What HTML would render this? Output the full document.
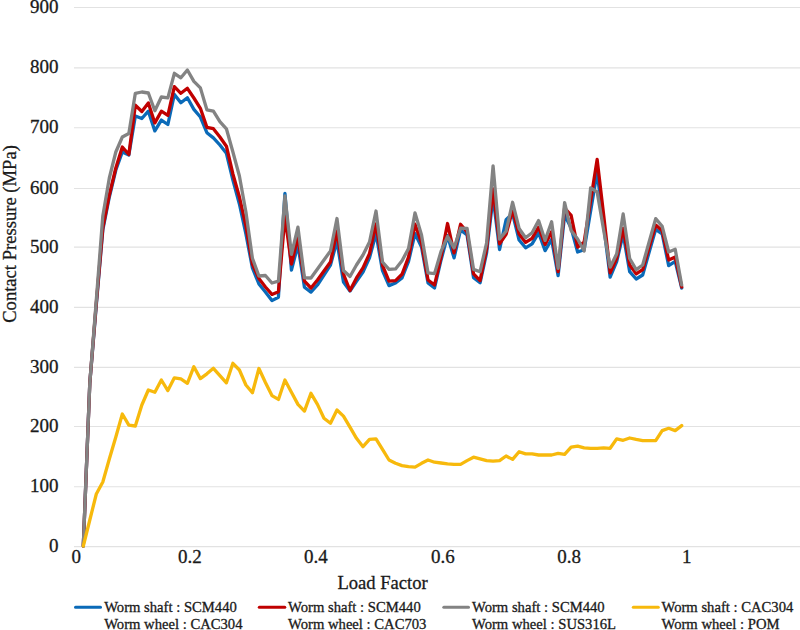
<!DOCTYPE html>
<html><head><meta charset="utf-8"><style>
html,body{margin:0;padding:0;background:#fff;}
body{width:800px;height:630px;overflow:hidden;position:relative;}
svg{position:absolute;left:0;top:0;}
text{font-family:"Liberation Serif",serif;fill:#1a1a1a;stroke:#1a1a1a;stroke-width:0.3px;}
</style></head><body>
<svg width="800" height="630" viewBox="0 0 800 630">

<line x1="74" y1="546.55" x2="800" y2="546.55" stroke="#e2e2e2" stroke-width="1.2"/>
<line x1="74" y1="486.75" x2="800" y2="486.75" stroke="#e2e2e2" stroke-width="1.2"/>
<line x1="74" y1="426.50" x2="800" y2="426.50" stroke="#e2e2e2" stroke-width="1.2"/>
<line x1="74" y1="367.40" x2="800" y2="367.40" stroke="#e2e2e2" stroke-width="1.2"/>
<line x1="74" y1="307.40" x2="800" y2="307.40" stroke="#e2e2e2" stroke-width="1.2"/>
<line x1="74" y1="247.10" x2="800" y2="247.10" stroke="#e2e2e2" stroke-width="1.2"/>
<line x1="74" y1="188.50" x2="800" y2="188.50" stroke="#e2e2e2" stroke-width="1.2"/>
<line x1="74" y1="127.75" x2="800" y2="127.75" stroke="#e2e2e2" stroke-width="1.2"/>
<line x1="74" y1="67.95" x2="800" y2="67.95" stroke="#e2e2e2" stroke-width="1.2"/>
<line x1="74" y1="7.50" x2="800" y2="7.50" stroke="#e2e2e2" stroke-width="1.2"/>
<text x="58.5" y="551.95" font-size="19" text-anchor="end">0</text>
<text x="58.5" y="492.15" font-size="19" text-anchor="end">100</text>
<text x="58.5" y="431.90" font-size="19" text-anchor="end">200</text>
<text x="58.5" y="372.80" font-size="19" text-anchor="end">300</text>
<text x="58.5" y="312.80" font-size="19" text-anchor="end">400</text>
<text x="58.5" y="252.50" font-size="19" text-anchor="end">500</text>
<text x="58.5" y="193.90" font-size="19" text-anchor="end">600</text>
<text x="58.5" y="133.15" font-size="19" text-anchor="end">700</text>
<text x="58.5" y="73.35" font-size="19" text-anchor="end">800</text>
<text x="58.5" y="12.90" font-size="19" text-anchor="end">900</text>
<text x="76.25" y="562.5" font-size="19" text-anchor="middle">0</text>
<text x="189.75" y="562.5" font-size="19" text-anchor="middle">0.2</text>
<text x="315.75" y="562.5" font-size="19" text-anchor="middle">0.4</text>
<text x="442.75" y="562.5" font-size="19" text-anchor="middle">0.6</text>
<text x="569" y="562.5" font-size="19" text-anchor="middle">0.8</text>
<text x="686.75" y="562.5" font-size="19" text-anchor="middle">1</text>
<text x="382.6" y="588.7" font-size="18.6" text-anchor="middle">Load Factor</text>
<text transform="translate(15.5,234) rotate(-90)" x="0" y="0" font-size="18.6" text-anchor="middle">Contact Pressure (MPa)</text>
<polyline points="83.30,546.00 89.80,383.00 96.31,305.00 102.81,230.00 109.32,197.00 115.82,170.00 122.33,152.00 128.83,155.00 135.33,116.00 141.84,118.50 148.34,111.20 154.85,130.90 161.35,120.10 167.86,124.50 174.36,94.40 180.87,102.80 187.37,97.80 193.87,109.40 200.38,117.00 206.88,132.70 213.39,137.90 219.89,145.00 226.40,153.30 232.90,180.00 239.40,204.00 245.91,234.00 252.41,268.00 258.92,284.00 265.42,292.00 271.93,300.60 278.43,297.20 284.93,193.30 291.44,270.00 297.94,245.00 304.45,287.20 310.95,292.10 317.46,285.00 323.96,275.00 330.47,265.00 336.97,241.00 343.47,282.00 349.98,291.00 356.48,281.40 362.99,272.10 369.49,257.90 376.00,233.50 382.50,270.70 389.00,285.60 395.51,283.00 402.01,277.90 408.52,261.40 415.02,233.50 421.53,247.00 428.03,282.90 434.53,287.90 441.04,260.00 447.54,235.70 454.05,257.90 460.55,230.00 467.06,235.00 473.56,277.80 480.07,282.80 486.57,253.00 493.07,197.00 499.58,249.50 506.08,219.80 512.59,213.50 519.09,240.00 525.60,247.80 532.10,243.90 538.60,232.80 545.11,250.60 551.61,239.40 558.12,275.60 564.62,215.00 571.13,228.00 577.63,252.00 584.13,249.70 590.64,211.00 597.14,172.00 603.65,225.00 610.15,277.20 616.66,261.70 623.16,233.90 629.67,271.70 636.17,279.00 642.67,275.00 649.18,252.00 655.68,229.30 662.19,234.00 668.69,265.70 675.20,261.40 681.70,288.00" fill="none" stroke="#0a6ab8" stroke-width="3.3" stroke-linejoin="round" stroke-linecap="round"/>
<polyline points="83.30,546.00 89.80,383.00 96.31,303.00 102.81,228.00 109.32,195.00 115.82,168.00 122.33,147.00 128.83,154.50 135.33,105.20 141.84,111.50 148.34,102.90 154.85,122.90 161.35,111.20 167.86,115.30 174.36,86.70 180.87,93.30 187.37,88.30 193.87,98.00 200.38,108.30 206.88,127.30 213.39,128.70 219.89,137.00 226.40,146.20 232.90,174.00 239.40,197.00 245.91,226.00 252.41,264.00 258.92,278.60 265.42,287.00 271.93,294.40 278.43,291.70 284.93,216.70 291.44,264.00 297.94,236.70 304.45,281.10 310.95,288.00 317.46,280.00 323.96,271.00 330.47,262.00 336.97,231.00 343.47,274.00 349.98,290.50 356.48,277.90 362.99,267.90 369.49,253.60 376.00,224.00 382.50,265.30 389.00,281.10 395.51,280.60 402.01,274.30 408.52,257.10 415.02,224.20 421.53,242.90 428.03,280.00 434.53,285.00 441.04,257.00 447.54,223.50 454.05,252.90 460.55,224.30 467.06,232.00 473.56,273.90 480.07,280.60 486.57,249.00 493.07,189.00 499.58,243.80 506.08,234.40 512.59,210.00 519.09,234.00 525.60,242.40 532.10,238.30 538.60,227.20 545.11,244.50 551.61,231.70 558.12,271.70 564.62,208.00 571.13,215.40 577.63,247.10 584.13,242.00 590.64,200.70 597.14,159.40 603.65,215.00 610.15,272.80 616.66,258.30 623.16,228.30 629.67,265.00 636.17,273.90 642.67,269.70 649.18,247.00 655.68,225.00 662.19,230.70 668.69,260.00 675.20,257.00 681.70,287.00" fill="none" stroke="#c00000" stroke-width="3.3" stroke-linejoin="round" stroke-linecap="round"/>
<polyline points="83.30,546.00 89.80,383.00 96.31,300.00 102.81,216.00 109.32,178.00 115.82,152.00 122.33,137.00 128.83,133.50 135.33,93.30 141.84,92.00 148.34,93.00 154.85,110.80 161.35,97.00 167.86,97.80 174.36,73.30 180.87,77.80 187.37,70.00 193.87,81.40 200.38,87.90 206.88,109.80 213.39,111.20 219.89,121.70 226.40,128.80 232.90,152.00 239.40,176.00 245.91,212.00 252.41,258.30 258.92,276.00 265.42,275.50 271.93,283.00 278.43,281.20 284.93,196.00 291.44,254.40 297.94,227.20 304.45,277.80 310.95,278.00 317.46,269.00 323.96,260.00 330.47,251.00 336.97,218.50 343.47,270.50 349.98,276.50 356.48,265.00 362.99,255.00 369.49,242.00 376.00,211.00 382.50,262.00 389.00,269.40 395.51,268.90 402.01,260.70 408.52,248.60 415.02,212.90 421.53,235.00 428.03,272.90 434.53,273.60 441.04,251.40 447.54,236.40 454.05,247.90 460.55,228.20 467.06,228.30 473.56,269.40 480.07,271.70 486.57,243.00 493.07,165.80 499.58,239.00 506.08,231.30 512.59,202.30 519.09,228.50 525.60,237.80 532.10,232.80 538.60,220.60 545.11,240.40 551.61,221.70 558.12,268.30 564.62,202.70 571.13,230.60 577.63,239.00 584.13,251.00 590.64,187.80 597.14,192.00 603.65,230.00 610.15,267.20 616.66,253.90 623.16,213.90 629.67,258.50 636.17,269.70 642.67,265.00 649.18,241.80 655.68,218.60 662.19,226.40 668.69,252.00 675.20,249.30 681.70,285.00" fill="none" stroke="#838383" stroke-width="3.3" stroke-linejoin="round" stroke-linecap="round"/>
<polyline points="83.30,546.00 89.80,520.00 96.31,494.00 102.81,482.00 109.32,459.00 115.82,437.00 122.33,414.00 128.83,425.20 135.33,426.00 141.84,405.00 148.34,390.00 154.85,392.20 161.35,380.00 167.86,390.60 174.36,377.80 180.87,378.90 187.37,383.30 193.87,366.70 200.38,378.60 206.88,373.80 213.39,368.30 219.89,375.60 226.40,382.80 232.90,363.30 239.40,370.00 245.91,385.00 252.41,392.80 258.92,368.50 265.42,382.50 271.93,395.60 278.43,399.40 284.93,380.00 291.44,392.20 297.94,404.40 304.45,411.10 310.95,393.30 317.46,404.40 323.96,418.30 330.47,423.30 336.97,410.00 343.47,416.10 349.98,427.20 356.48,438.30 362.99,446.70 369.49,439.40 376.00,438.90 382.50,449.40 389.00,460.00 395.51,463.30 402.01,465.60 408.52,466.70 415.02,467.20 421.53,463.30 428.03,460.00 434.53,462.20 441.04,463.00 447.54,463.90 454.05,464.40 460.55,464.40 467.06,460.60 473.56,457.20 480.07,458.90 486.57,460.60 493.07,461.10 499.58,460.60 506.08,456.00 512.59,459.40 519.09,451.70 525.60,453.90 532.10,453.90 538.60,455.00 545.11,455.00 551.61,455.00 558.12,453.30 564.62,454.40 571.13,447.20 577.63,446.10 584.13,447.80 590.64,448.30 597.14,448.30 603.65,447.80 610.15,448.30 616.66,438.90 623.16,440.30 629.67,438.00 636.17,439.40 642.67,440.60 649.18,440.60 655.68,440.60 662.19,430.60 668.69,428.30 675.20,430.60 681.70,425.60" fill="none" stroke="#f7b90c" stroke-width="3.3" stroke-linejoin="round" stroke-linecap="round"/>
<line x1="75.5" y1="607.3" x2="100.5" y2="607.3" stroke="#0a6ab8" stroke-width="3" stroke-linecap="round"/>
<text x="104.2" y="612" font-size="14.65">Worm shaft : SCM440</text>
<text x="104.2" y="628.5" font-size="14.65">Worm wheel : CAC304</text>
<line x1="259.3" y1="607.3" x2="284.8" y2="607.3" stroke="#c00000" stroke-width="3" stroke-linecap="round"/>
<text x="288.1" y="612" font-size="14.65">Worm shaft : SCM440</text>
<text x="288.1" y="628.5" font-size="14.65">Worm wheel : CAC703</text>
<line x1="443.8" y1="607.3" x2="468.5" y2="607.3" stroke="#838383" stroke-width="3" stroke-linecap="round"/>
<text x="472" y="612" font-size="14.65">Worm shaft : SCM440</text>
<text x="472" y="628.5" font-size="14.65">Worm wheel : SUS316L</text>
<line x1="633.3" y1="607.3" x2="658.3" y2="607.3" stroke="#f7b90c" stroke-width="3" stroke-linecap="round"/>
<text x="661.5" y="612" font-size="14.65">Worm shaft : CAC304</text>
<text x="661.5" y="628.5" font-size="14.65">Worm wheel : POM</text>
</svg></body></html>
